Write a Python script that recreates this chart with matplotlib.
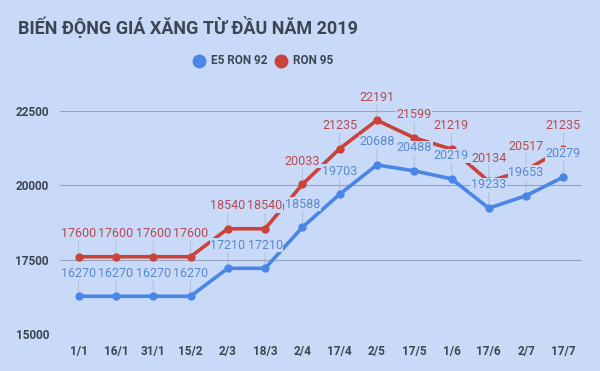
import matplotlib
matplotlib.use("Agg")
import matplotlib.pyplot as plt
from matplotlib.lines import Line2D

plt.rcParams['font.family'] = ['Roboto', 'DejaVu Sans']

dates = ['1/1', '16/1', '31/1', '15/2', '2/3', '18/3', '2/4',
         '17/4', '2/5', '17/5', '1/6', '17/6', '2/7', '17/7']
e5_ron92 = [16270, 16270, 16270, 16270, 17210, 17210, 18588,
            19703, 20688, 20488, 20219, 19233, 19653, 20279]
ron95 = [17600, 17600, 17600, 17600, 18540, 18540, 20033,
         21235, 22191, 21599, 21219, 20134, 20517, 21235]
yticks = [15000, 17500, 20000, 22500]

bg = '#c9daf8'
blue = '#4a86e8'
red = '#c9433a'
blue_txt = '#5a88cc'
red_txt = '#b54a52'
dark = '#3c4552'

fig = plt.figure(figsize=(6, 3.71), dpi=100, facecolor=bg)
ax = fig.add_axes([0.1, 0.0997, 0.87, 0.601])
ax.set_facecolor(bg)

x = list(range(len(dates)))
ax.plot(x, ron95, color=red, lw=2.6, marker='o', ms=5, zorder=3,
        solid_capstyle='round')
ax.plot(x, e5_ron92, color=blue, lw=2.6, marker='o', ms=5, zorder=3,
        solid_capstyle='round')

# data labels with leader lines, boxes hide the lines below
for series, col in [(ron95, red_txt), (e5_ron92, blue_txt)]:
    for i, v in enumerate(series):
        ax.annotate(str(v), (i, v), xytext=(0, 12), textcoords='offset points',
                    ha='center', va='bottom', fontsize=9, color=col, zorder=5,
                    bbox=dict(boxstyle='square,pad=0.05', fc=bg, ec='none'),
                    arrowprops=dict(arrowstyle='-', color='#a9b4c4', lw=0.5,
                                    shrinkA=0, shrinkB=3),
                    annotation_clip=False)

ax.set_xlim(-0.5, len(dates) - 0.5)
ax.set_ylim(15000, 22500)
ax.set_xticks(x)
ax.set_xticklabels(dates)
ax.set_yticks(yticks)
ax.grid(axis='y', color='#96a3b8', lw=0.8)
ax.set_axisbelow(True)
for s in ax.spines.values():
    s.set_visible(False)
ax.tick_params(length=0, labelsize=8.5, labelcolor=dark, pad=8)
for lab in ax.get_xticklabels() + ax.get_yticklabels():
    lab.set_fontweight('bold')

fig.text(18 / 600, 1 - 27 / 371, 'BIẾN ĐỘNG GIÁ XĂNG TỪ ĐẦU NĂM 2019',
         fontsize=13, fontweight='bold', color=dark, va='center', ha='left')

# legend
ly = 1 - 61 / 371
for cx, col, name in [(199, blue, 'E5 RON 92'), (281, red, 'RON 95')]:
    fig.add_artist(Line2D([cx / 600], [ly], marker='o', ms=9, color=col,
                          transform=fig.transFigure))
    fig.text((cx + 12) / 600, ly, name, fontsize=8.5, fontweight='bold',
             color=dark, va='center')

fig.savefig('out.png', dpi=100, facecolor=bg)
